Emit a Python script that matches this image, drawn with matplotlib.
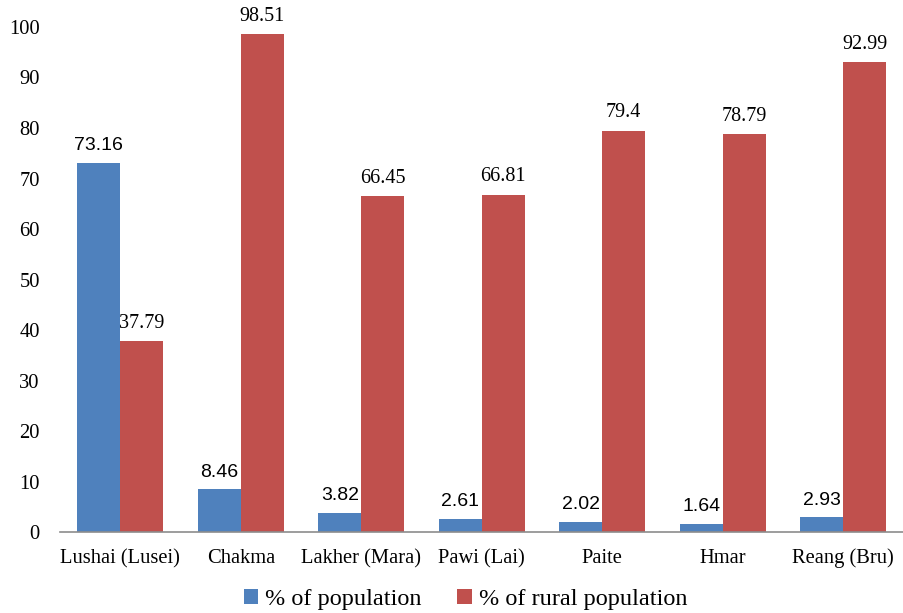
import matplotlib.pyplot as plt
import numpy as np

categories = ["Lushai (Lusei)", "Chakma", "Lakher (Mara)", "Pawi (Lai)", "Paite", "Hmar", "Reang (Bru)"]
pct_population = [73.16, 8.46, 3.82, 2.61, 2.02, 1.64, 2.93]
pct_rural = [37.79, 98.51, 66.45, 66.81, 79.4, 78.79, 92.99]
pop_labels = ["73.16", "8.46", "3.82", "2.61", "2.02", "1.64", "2.93"]
rural_labels = ["37.79", "98.51", "66.45", "66.81", "79.4", "78.79", "92.99"]

BLUE = "#4F81BD"
RED = "#C0504D"
SERIF = "Liberation Serif"
SANS = "Liberation Sans"

fig = plt.figure(figsize=(9.04, 6.13), dpi=100)
ax = fig.add_axes([0.0664, 0.132, 0.933, 0.824])

x = np.arange(len(categories))
w = 0.357
b1 = ax.bar(x - w / 2, pct_population, w, color=BLUE, label="% of population")
b2 = ax.bar(x + w / 2, pct_rural, w, color=RED, label="% of rural population")

for rect, lab in zip(b1, pop_labels):
    ax.text(rect.get_x() + rect.get_width() / 2, rect.get_height() + 1.7, lab,
            ha="center", va="bottom", fontsize=14, family=SANS, color="black")
for rect, lab in zip(b2, rural_labels):
    ax.text(rect.get_x() + rect.get_width() / 2, rect.get_height() + 1.7, lab,
            ha="center", va="bottom", fontsize=14.5, family=SERIF, color="black")

ax.set_xlim(-0.5, len(categories) - 0.5)
ax.set_ylim(0, 100)
ax.set_yticks(np.arange(0, 101, 10))
ax.set_xticks(x)
ax.set_xticklabels(categories, fontsize=14.8, family=SERIF)
for lab in ax.get_yticklabels():
    lab.set_family(SERIF)
    lab.set_fontsize(14.8)

for s in ["top", "right", "left"]:
    ax.spines[s].set_visible(False)
ax.spines["bottom"].set_color("#8C8C8C")
ax.spines["bottom"].set_linewidth(1.2)
ax.tick_params(axis="both", length=0)
ax.tick_params(axis="y", pad=14.5)
ax.tick_params(axis="x", pad=12)

leg = fig.legend(handles=[b1, b2], loc="center", bbox_to_anchor=(0.515, 0.022), ncol=2,
                 frameon=False, prop={"family": SERIF, "size": 17.5},
                 handlelength=0.6, handleheight=0.6, handletextpad=0.3, columnspacing=1.45)

fig.savefig("out.png", dpi=100)
